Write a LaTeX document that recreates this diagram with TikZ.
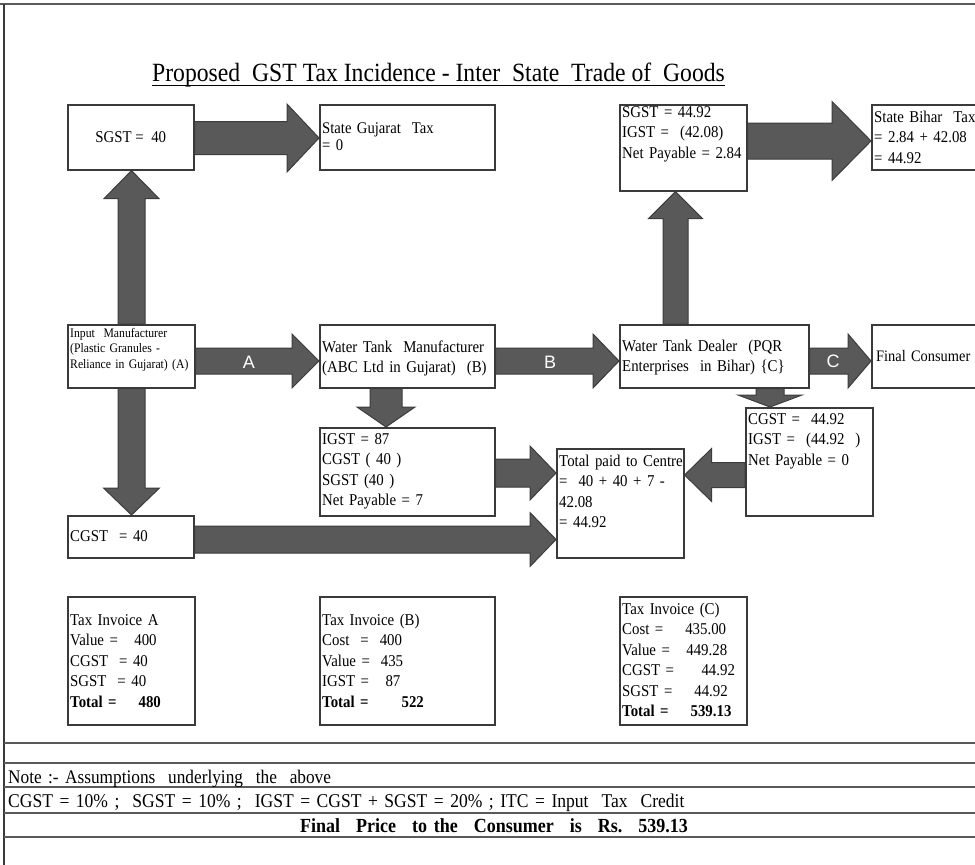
\documentclass[tikz,border=0pt]{standalone}
\usepackage{fontspec}
\setmainfont{Liberation Serif}[FakeStretch=0.9]
\newfontfamily\flowlabelfont{Liberation Sans}
\usetikzlibrary{calc}

\definecolor{framecol}{HTML}{3A3A3A}
\definecolor{arrowfill}{HTML}{595959}
\definecolor{arrowedge}{HTML}{3C3C3C}
\definecolor{rulecol}{HTML}{5A5A5A}

\pgfdeclarelayer{bg}
\pgfsetlayers{bg,main}

\newcommand{\boxfont}{\fontsize{16.5pt}{20.5pt}\selectfont}
\newcommand{\smallboxfont}{\fontsize{13pt}{15.5pt}\selectfont}
\newcommand{\midboxfont}{\fontsize{16.3pt}{17pt}\selectfont}
\newcommand{\gap}{\hspace{16pt}}

% block arrow: #1 tail, #2 tip, #3 shaft half width, #4 head half width, #5 head length
\newcommand{\blockarrow}[5]{%
  \coordinate (ba-h) at ($#2!#5!#1$);
  \draw[barrow] ($#1!#3!90:#2$) -- ($(ba-h)!#3!90:#2$) -- ($(ba-h)!#4!90:#2$)
    -- #2 -- ($(ba-h)!#4!-90:#2$) -- ($(ba-h)!#3!-90:#2$) -- ($#1!#3!-90:#2$) -- cycle;}

\begin{document}
\begin{tikzpicture}[x=1pt,y=-1pt,
  frame/.style={draw=framecol, line width=1.6pt, fill=white, inner sep=0pt, anchor=north west},
  txt/.style={anchor=base west, inner sep=0pt, text width=230pt, align=left, font=\boxfont},
  barrow/.style={fill=arrowfill, draw=arrowedge, line width=1pt, line join=miter},
  flowlabel/.style={text=white, inner sep=0pt, font=\flowlabelfont\fontsize{18pt}{20pt}\selectfont},
  rule/.style={draw=rulecol, line width=1.8pt}]
\useasboundingbox (0,0) rectangle (975,865);
\clip (0,0) rectangle (975,865);

% page edges
\draw[rule] (0,4) -- (975,4);
\draw[draw=framecol, line width=1.5pt] (4,4) -- (4,865);

% title
\node[anchor=base west, inner sep=0pt, font=\fontsize{26.3pt}{30pt}\selectfont] (title) at (152,81)
  {Proposed~ GST Tax Incidence - Inter~ State~ Trade of~ Goods};
\draw[line width=1.3pt] ($(title.base west)+(0,4.5)$) -- ($(title.base east)+(0,4.5)$);

% boxes
\node[frame, minimum width=126pt, minimum height=65pt]  (sgstA)   at (67,104)  {};
\node[frame, minimum width=175pt, minimum height=65pt]  (gujarat) at (319,104) {};
\node[frame, minimum width=127pt, minimum height=86pt]  (sgstB)   at (619,104) {};
\node[frame, minimum width=150pt, minimum height=65pt]  (bihar)   at (871,104) {};
\node[frame, minimum width=127pt, minimum height=63pt]  (input)   at (67,324)  {};
\node[frame, minimum width=175pt, minimum height=63pt]  (wtm)     at (319,324) {};
\node[frame, minimum width=189pt, minimum height=63pt]  (dealer)  at (619,324) {};
\node[frame, minimum width=150pt, minimum height=63pt]  (final)   at (871,324) {};
\node[frame, minimum width=175pt, minimum height=88pt]  (igst)    at (319,427) {};
\node[frame, minimum width=127pt, minimum height=108pt] (cgstB)   at (745,407) {};
\node[frame, minimum width=127pt, minimum height=109pt] (total)   at (556,448) {};
\node[frame, minimum width=126pt, minimum height=42pt]  (cgstA)   at (67,515)  {};
\node[frame, minimum width=127pt, minimum height=128pt] (invA)    at (67,596)  {};
\node[frame, minimum width=175pt, minimum height=128pt] (invB)    at (319,596) {};
\node[frame, minimum width=127pt, minimum height=128pt] (invC)    at (619,596) {};

% box texts
\node[inner sep=0pt, font=\boxfont] (sgstA-t) at (sgstA.center) {SGST =~ 40};
\node[txt, font=\midboxfont] (gujarat-t) at ($(gujarat.north west)+(3,29)$) {State Gujarat~ Tax\\= 0};
\node[txt] (sgstB-t) at ($(sgstB.north west)+(3,13)$) {SGST = 44.92\\IGST =~ (42.08)\\Net Payable = 2.84};
\node[txt] (bihar-t) at ($(bihar.north west)+(3,18)$) {State Bihar~ Tax\\= 2.84 + 42.08\\= 44.92};
\node[txt, font=\smallboxfont] (input-t) at ($(input.north west)+(3,13)$) {Input~ Manufacturer\\(Plastic Granules -\\Reliance in Gujarat) (A)};
\node[txt] (wtm-t) at ($(wtm.north west)+(3,28)$) {Water Tank~ Manufacturer\\(ABC Ltd in Gujarat)~ (B)};
\node[txt] (dealer-t) at ($(dealer.north west)+(3,27)$) {Water Tank Dealer~ (PQR\\Enterprises~ in Bihar) \{C\}};
\node[txt, font=\fontsize{16pt}{20pt}\selectfont] (final-t) at ($(final.north west)+(5,37)$) {Final Consumer};
\node[txt] (igst-t) at ($(igst.north west)+(3,17)$) {IGST = 87\\CGST ( 40 )\\SGST (40 )\\Net Payable = 7};
\node[txt] (cgstB-t) at ($(cgstB.north west)+(3,17)$) {CGST =~ 44.92\\IGST =~ (44.92~ )\\Net Payable = 0};
\node[txt] (total-t) at ($(total.north west)+(3,18)$) {Total paid to Centre\\=~ 40 + 40 + 7 -\\42.08\\= 44.92};
\node[txt] (cgstA-t) at ($(cgstA.north west)+(3,26)$) {CGST~ = 40};
\node[txt] (invA-t) at ($(invA.north west)+(3,29)$)
  {Tax Invoice A\\Value =~~ 400\\CGST~ = 40\\SGST~ = 40\\\textbf{Total =~~~ 480}};
\node[txt] (invB-t) at ($(invB.north west)+(3,29)$)
  {Tax Invoice (B)\\Cost~ =~ 400\\Value =~ 435\\IGST =~~ 87\\\textbf{Total =~~~~~ 522}};
\node[txt] (invC-t) at ($(invC.north west)+(3,18)$)
  {Tax Invoice (C)\\Cost =~~~ 435.00\\Value =~~ 449.28\\CGST =~~~~ 44.92\\SGST =~~~ 44.92\\\textbf{Total =~~~ 539.13}};

% block arrows
\begin{pgfonlayer}{bg}
  \coordinate (a1s) at (sgstA.east |- 0,138);   \coordinate (a1e) at (gujarat.west |- 0,138);
  \blockarrow{(a1s)}{(a1e)}{16.5pt}{34pt}{32pt}
  \coordinate (a2s) at (131.5,0 |- input.north); \coordinate (a2e) at (131.5,0 |- sgstA.south);
  \blockarrow{(a2s)}{(a2e)}{13.5pt}{27.5pt}{28pt}
  \coordinate (a3s) at (input.east |- 0,361);    \coordinate (a3e) at (wtm.west |- 0,361);
  \blockarrow{(a3s)}{(a3e)}{13pt}{27pt}{27pt}
  \coordinate (a4s) at (wtm.east |- 0,361);      \coordinate (a4e) at (dealer.west |- 0,361);
  \blockarrow{(a4s)}{(a4e)}{13pt}{27pt}{26pt}
  \coordinate (a5s) at (dealer.east |- 0,361);   \coordinate (a5e) at (final.west |- 0,361);
  \blockarrow{(a5s)}{(a5e)}{13pt}{27pt}{23pt}
  \coordinate (a6s) at (675.5,0 |- dealer.north); \coordinate (a6e) at (675.5,0 |- sgstB.south);
  \blockarrow{(a6s)}{(a6e)}{12.5pt}{27pt}{27pt}
  \coordinate (a7s) at (sgstB.east |- 0,141);    \coordinate (a7e) at (bihar.west |- 0,141);
  \blockarrow{(a7s)}{(a7e)}{18pt}{39.5pt}{39pt}
  \coordinate (a8s) at (386,0 |- wtm.south);     \coordinate (a8e) at (386,0 |- igst.north);
  \blockarrow{(a8s)}{(a8e)}{16pt}{29pt}{20pt}
  \coordinate (a9s) at (131.5,0 |- input.south); \coordinate (a9e) at (131.5,0 |- cgstA.north);
  \blockarrow{(a9s)}{(a9e)}{13.5pt}{28pt}{27pt}
  \coordinate (a10s) at (cgstA.east |- 0,539.5); \coordinate (a10e) at (total.west |- 0,539.5);
  \blockarrow{(a10s)}{(a10e)}{13.5pt}{27pt}{26pt}
  \coordinate (a11s) at (igst.east |- 0,473);    \coordinate (a11e) at (total.west |- 0,473);
  \blockarrow{(a11s)}{(a11e)}{14pt}{27pt}{26pt}
  \coordinate (a12s) at (770,0 |- dealer.south); \coordinate (a12e) at (770,0 |- cgstB.north);
  \blockarrow{(a12s)}{(a12e)}{14pt}{32pt}{12pt}
  \coordinate (a13s) at (cgstB.west |- 0,475);   \coordinate (a13e) at (total.east |- 0,475);
  \blockarrow{(a13s)}{(a13e)}{12.5pt}{26.5pt}{27pt}
\end{pgfonlayer}

% arrow labels
\node[flowlabel] (lblA) at (249,362) {A};
\node[flowlabel] (lblB) at (550,362) {B};
\node[flowlabel] (lblC) at (833,361) {C};

% notes block
\draw[rule] (4,743) -- (975,743);
\draw[rule] (4,763) -- (975,763);
\draw[rule] (4,787) -- (975,787);
\draw[rule] (4,813) -- (975,813);
\draw[rule] (4,837) -- (975,837);
\node[txt, text width=600pt, font=\fontsize{19.2pt}{22pt}\selectfont] (note) at (8,783)
  {Note :- Assumptions~ underlying~ the~ above};
\node[txt, text width=800pt, font=\fontsize{19.5pt}{22pt}\selectfont] (rates) at (8,807)
  {CGST = 10\% ;~ SGST = 10\% ;~ IGST = CGST + SGST = 20\% ; ITC = Input~ Tax~ Credit};
\node[txt, text width=600pt, font=\fontsize{20pt}{22pt}\selectfont] (price) at (300,832)
  {\textbf{Final\gap Price\gap to the\gap Consumer\gap is\gap Rs.\gap 539.13}};
\end{tikzpicture}
\end{document}
